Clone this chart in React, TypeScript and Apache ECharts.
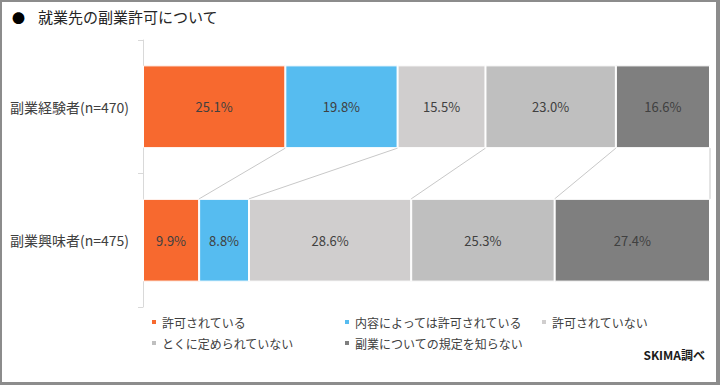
import React, { useEffect, useRef } from "react";
import * as echarts from "echarts";

const categories = ["副業経験者(n=470)", "副業興味者(n=475)"];
const seriesNames = [
  "許可されている",
  "内容によっては許可されている",
  "許可されていない",
  "とくに定められていない",
  "副業についての規定を知らない",
];
const permitted = [25.1, 9.9];
const permittedByContent = [19.8, 8.8];
const notPermitted = [15.5, 28.6];
const notDefined = [23.0, 25.3];
const unknownRule = [16.6, 27.4];
const colors = ["#F7692F", "#56BCF0", "#D0CECE", "#BFBFBF", "#7F7F7F"];

const FONT = '"Noto Sans CJK JP", "Noto Sans", sans-serif';
const BAR_RATIO = 0.62;

export default function App() {
  const ref = useRef<HTMLDivElement>(null);
  useEffect(() => {
    if (!ref.current) return;
    const chart = echarts.init(ref.current, undefined, { renderer: "svg" });
    const values = [permitted, permittedByContent, notPermitted, notDefined, unknownRule];

    const connectors: number[][] = [];
    let cTop = 0;
    let cBot = 0;
    values.forEach((v) => {
      cTop += v[0];
      cBot += v[1];
      connectors.push([+cTop.toFixed(1), 0, +cBot.toFixed(1)]);
    });

    const barSeries = values.map((v, i) => ({
      type: "bar",
      name: seriesNames[i],
      stack: "total",
      data: v,
      barWidth: BAR_RATIO * 100 + "%",
      itemStyle: { color: colors[i], borderColor: "#ffffff", borderWidth: 1 },
      label: {
        show: true,
        position: "inside",
        formatter: (p: any) => p.value.toFixed(1) + "%",
        fontSize: 13,
        fontFamily: FONT,
        color: "#404040",
      },
    }));

    const legendPos = [
      { left: 150, top: 316 },
      { left: 343, top: 316 },
      { left: 540, top: 316 },
      { left: 150, top: 337 },
      { left: 343, top: 337 },
    ];

    chart.setOption({
      animation: false,
      backgroundColor: "#ffffff",
      grid: { left: 143, right: 10, top: 40, bottom: 78 },
      xAxis: { type: "value", min: 0, max: 100, show: false },
      yAxis: {
        type: "category",
        inverse: true,
        data: categories,
        axisLine: { show: true, lineStyle: { color: "#D9D9D9", width: 1 } },
        axisTick: { show: true, length: 5, lineStyle: { color: "#D9D9D9" } },
        axisLabel: { fontSize: 14, fontFamily: FONT, color: "#404040", margin: 14 },
      },
      legend: legendPos.map((p, i) => ({
        data: [seriesNames[i]],
        left: p.left,
        top: p.top,
        padding: 0,
        icon: "rect",
        itemWidth: 6,
        itemHeight: 6,
        itemGap: 0,
        selectedMode: false,
        textStyle: { fontSize: 12, fontFamily: FONT, color: "#404040" },
      })),
      series: [
        ...barSeries,
        {
          type: "custom",
          name: "connectors",
          data: connectors,
          encode: { x: 0, y: 1 },
          clip: false,
          z: 1,
          renderItem: (_params: any, api: any) => {
            const p1 = api.coord([api.value(0), 0]);
            const p2 = api.coord([api.value(2), 1]);
            const band = api.size([0, 1])[1];
            const half = (band * BAR_RATIO) / 2;
            return {
              type: "line",
              shape: { x1: p1[0], y1: p1[1] + half, x2: p2[0], y2: p2[1] - half },
              style: { stroke: "#C8C8C8", lineWidth: 1 },
            };
          },
        },
      ],
      graphic: [
        { type: "rect", silent: true, shape: { x: 0, y: 0, width: 720, height: 2 }, style: { fill: "#8C8C8C" } },
        { type: "rect", silent: true, shape: { x: 0, y: 0, width: 2, height: 385 }, style: { fill: "#8C8C8C" } },
        { type: "rect", silent: true, shape: { x: 716, y: 0, width: 4, height: 385 }, style: { fill: "#8C8C8C" } },
        { type: "rect", silent: true, shape: { x: 0, y: 382, width: 720, height: 3 }, style: { fill: "#8C8C8C" } },
        {
          type: "text",
          left: 12,
          top: 11,
          style: { text: "●", fontSize: 13, fontFamily: FONT, fill: "#000000" },
        },
        {
          type: "text",
          left: 38,
          top: 9,
          style: { text: "就業先の副業許可について", fontSize: 15, fontFamily: FONT, fill: "#262626" },
        },
        {
          type: "text",
          right: 15,
          top: 348,
          style: { text: "SKIMA調べ", fontSize: 12, fontWeight: "bold", fontFamily: FONT, fill: "#1a1a1a" },
        },
      ],
    });
    return () => chart.dispose();
  }, []);

  return (
    <div
      ref={ref}
      style={{ position: "fixed", left: 0, top: 0, width: 720, height: 385, background: "#ffffff" }}
    />
  );
}
